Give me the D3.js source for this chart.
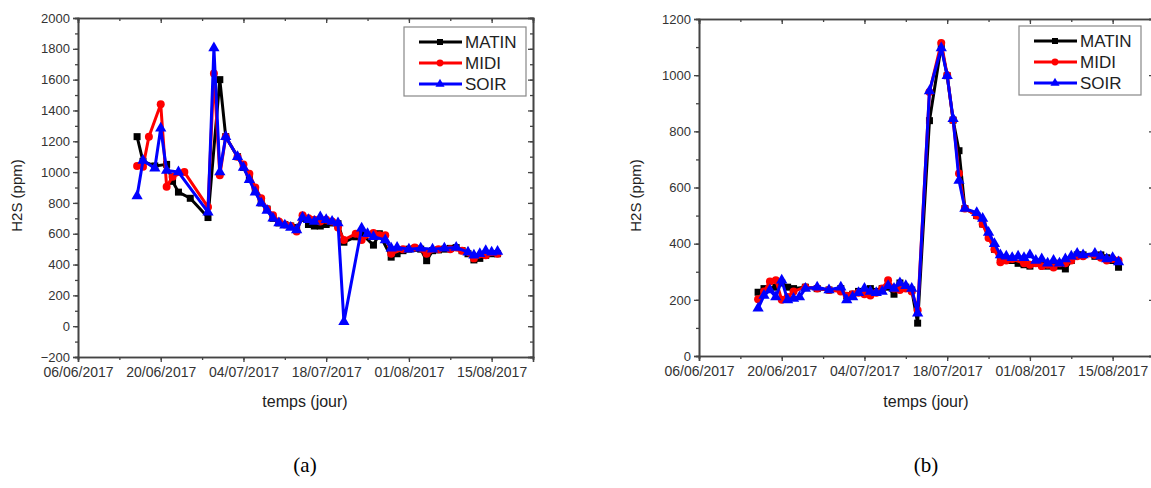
<!DOCTYPE html>
<html>
<head>
<meta charset="utf-8">
<script src="https://cdn.jsdelivr.net/npm/d3@7"></script>
<style>
  body { margin: 0; background: #fff; }
  svg { display: block; font-family: "Liberation Sans", Arial, sans-serif; }
  .tick text { fill: #333; }
  .domain, .tick line { stroke: #444; }
</style>
</head>
<body>
<div class="chart"></div>
<script>
// tick labels and series names
var xTickLabels = ["06/06/2017", "20/06/2017", "04/07/2017", "18/07/2017", "01/08/2017", "15/08/2017"];
var seriesNames = ["MATIN", "MIDI", "SOIR"];

// (a) left chart : dates (dd/mm) and H2S values
var aMatinDates = ["16/06","17/06","19/06","21/06","22/06","23/06","25/06","28/06","30/06","01/07","03/07","04/07","05/07","06/07","07/07","08/07","09/07","10/07","11/07","12/07","13/07","14/07","15/07","16/07","17/07","18/07","19/07","20/07","21/07","23/07","24/07","26/07","27/07","29/07","30/07","31/07","01/08","02/08","03/08","04/08","05/08","06/08","07/08","08/08","09/08","10/08","11/08","12/08","13/08","14/08","15/08","16/08"];
var aMatin = [1230,1070,1040,1050,940,870,830,705,1600,1230,1100,1030,960,880,800,760,700,670,660,650,640,700,660,650,650,660,670,665,545,580,600,526,600,448,470,490,500,505,500,425,490,495,500,505,510,490,470,430,440,460,470,470];

var aMidiDates = ["16/06","17/06","18/06","20/06","21/06","22/06","24/06","28/06","29/06","30/06","01/07","03/07","04/07","05/07","06/07","07/07","08/07","09/07","10/07","11/07","12/07","13/07","14/07","15/07","16/07","17/07","18/07","19/07","20/07","21/07","23/07","24/07","26/07","27/07","28/07","29/07","31/07","02/08","04/08","06/08","08/08","10/08","12/08","14/08","16/08"];
var aMidi = [1040,1035,1230,1440,905,970,1000,773,1640,980,1230,1100,1050,990,900,830,760,720,680,660,650,615,720,700,690,680,690,680,640,560,600,560,604,590,590,470,500,510,470,500,500,490,440,460,470];

var aSoirDates = ["16/06","17/06","19/06","20/06","21/06","23/06","28/06","29/06","30/06","01/07","03/07","04/07","05/07","06/07","07/07","08/07","09/07","10/07","11/07","12/07","13/07","14/07","15/07","16/07","17/07","18/07","19/07","20/07","21/07","24/07","25/07","26/07","28/07","29/07","30/07","01/08","03/08","05/08","07/08","09/08","11/08","12/08","13/08","14/08","15/08","16/08"];
var aSoir = [845,1075,1025,1285,1010,1000,740,1805,1000,1230,1100,1030,950,870,800,750,700,670,655,640,625,705,690,680,708,690,680,669,28,636,600,580,560,506,510,500,505,500,505,510,480,460,470,490,480,485];

// (b) right chart : dates (dd/mm) and H2S values
var bMatinDates = ["16/06","17/06","19/06","20/06","21/06","22/06","24/06","26/06","28/06","30/06","01/07","02/07","03/07","05/07","06/07","07/07","08/07","09/07","10/07","11/07","12/07","13/07","15/07","17/07","18/07","19/07","20/07","21/07","23/07","24/07","25/07","26/07","27/07","28/07","29/07","30/07","31/07","01/08","02/08","03/08","04/08","05/08","06/08","07/08","08/08","09/08","10/08","12/08","13/08","14/08","15/08","16/08"];
var bMatin = [227,240,245,260,245,240,245,240,235,240,215,220,230,240,230,240,245,220,260,245,235,117,838,1105,998,840,731,525,500,470,430,380,350,340,340,330,325,320,330,330,320,330,320,310,340,360,360,355,360,350,340,316];

var bMidiDates = ["16/06","17/06","18/06","19/06","20/06","21/06","22/06","24/06","26/06","28/06","30/06","01/07","02/07","03/07","04/07","05/07","06/07","07/07","08/07","09/07","10/07","11/07","12/07","13/07","15/07","17/07","18/07","19/07","20/07","21/07","23/07","24/07","25/07","26/07","27/07","28/07","29/07","31/07","01/08","02/08","03/08","04/08","05/08","06/08","07/08","08/08","09/08","10/08","12/08","13/08","14/08","15/08","16/08"];
var bMidi = [202,230,265,270,200,210,230,245,240,235,230,215,220,225,220,215,225,240,270,240,235,240,230,163,940,1115,1000,840,650,525,500,470,420,380,334,340,345,330,325,330,320,325,315,330,330,340,355,355,360,350,340,345,340];

var bSoirDates = ["16/06","17/06","18/06","19/06","20/06","21/06","22/06","23/06","24/06","26/06","28/06","30/06","01/07","02/07","03/07","04/07","05/07","06/07","07/07","08/07","09/07","10/07","11/07","12/07","13/07","15/07","17/07","18/07","19/07","20/07","21/07","23/07","24/07","25/07","26/07","27/07","28/07","29/07","30/07","31/07","01/08","02/08","03/08","04/08","05/08","06/08","07/08","08/08","09/08","10/08","12/08","13/08","14/08","15/08","16/08"];
var bSoir = [170,215,235,210,270,199,205,210,240,245,235,245,199,210,225,240,230,225,230,250,240,260,250,240,152,944,1097,998,845,625,525,510,490,440,400,360,355,350,355,350,360,340,345,330,340,330,345,355,365,360,365,355,345,350,335];

// declare dimensions
var svgWidth = 1151;
var svgHeight = 488;
var parseDate = d3.timeParse("%d/%m/%Y");
var colors = ["#000000", "#ff0000", "#0000ff"];

var svg = d3.select(".chart")
  .append("svg")
  .attr("width", svgWidth)
  .attr("height", svgHeight);

function zip(dates, values) {
  return dates.map((d, i) => ({ date: parseDate(d + "/2017"), value: values[i] }));
}

function drawPanel(opts) {
  var g = svg.append("g");
  var x = d3.scaleTime()
    .domain([parseDate("06/06/2017"), parseDate("22/08/2017")])
    .range([opts.left, opts.left + 455]);
  var y = d3.scaleLinear()
    .domain(opts.yDomain)
    .range([opts.bottom, opts.top]);

  var majorX = xTickLabels.map(parseDate);
  var minorX = d3.timeDay.range(parseDate("06/06/2017"), parseDate("23/08/2017"), 7);
  var majorY = d3.range(opts.yDomain[0], opts.yDomain[1] + 1, 200);
  var minorY = d3.range(opts.yDomain[0], opts.yDomain[1] + 1, 100);

  // minor ticks
  g.append("g").attr("transform", `translate(0,${opts.bottom})`)
    .call(d3.axisBottom(x).tickValues(minorX).tickSize(3).tickFormat(""));
  g.append("g").attr("transform", `translate(0,${opts.top})`)
    .call(d3.axisTop(x).tickValues(minorX).tickSize(-3).tickFormat(""));
  g.append("g").attr("transform", `translate(${opts.left},0)`)
    .call(d3.axisLeft(y).tickValues(minorY).tickSize(3).tickFormat(""));
  g.append("g").attr("transform", `translate(${opts.left + 455},0)`)
    .call(d3.axisRight(y).tickValues(minorY).tickSize(-3).tickFormat(""));

  // major ticks
  g.append("g").attr("transform", `translate(0,${opts.bottom})`)
    .call(d3.axisBottom(x).tickValues(majorX).tickSize(5).tickPadding(5).tickFormat(d3.timeFormat("%d/%m/%Y")))
    .selectAll("text").style("font-size", "14px");
  g.append("g").attr("transform", `translate(0,${opts.top})`)
    .call(d3.axisTop(x).tickValues(majorX).tickSize(-5).tickFormat(""));
  g.append("g").attr("transform", `translate(${opts.left},0)`)
    .call(d3.axisLeft(y).tickValues(majorY).tickSize(5).tickPadding(3).tickFormat(d3.format("d")))
    .selectAll("text").style("font-size", "13px");
  g.append("g").attr("transform", `translate(${opts.left + 455},0)`)
    .call(d3.axisRight(y).tickValues(majorY).tickSize(-5).tickFormat(""));

  g.selectAll(".domain").attr("stroke-width", 1.6);
  g.selectAll(".tick line").attr("stroke-width", 1.3);

  // axis titles
  g.append("text")
    .attr("x", opts.left + 227)
    .attr("y", 407)
    .attr("text-anchor", "middle")
    .style("font-size", "16px")
    .attr("fill", "#222")
    .text("temps (jour)");
  g.append("text")
    .attr("transform", `translate(${opts.yTitleX},${(opts.top + opts.bottom) / 2 + 8}) rotate(-90)`)
    .attr("text-anchor", "middle")
    .style("font-size", "15px")
    .attr("fill", "#222")
    .text("H2S (ppm)");

  var line = d3.line().x(d => x(d.date)).y(d => y(d.value));

  opts.series.forEach((s, i) => {
    var data = zip(s[0], s[1]);
    g.append("path")
      .datum(data)
      .attr("fill", "none")
      .attr("stroke", colors[i])
      .attr("stroke-width", 3)
      .attr("stroke-linejoin", "round")
      .attr("d", line);
    var marks = g.append("g").selectAll("path")
      .data(data)
      .enter()
      .append("path")
      .attr("transform", d => `translate(${x(d.date)},${y(d.value)})`)
      .attr("fill", colors[i]);
    if (i == 0) marks.attr("d", d3.symbol(d3.symbolSquare, 49));
    else if (i == 1) marks.attr("d", d3.symbol(d3.symbolCircle, 50));
    else marks.attr("d", d3.symbol(d3.symbolTriangle, 55));
  });

  // legend
  var lg = g.append("g");
  lg.append("rect")
    .attr("x", opts.legend[0])
    .attr("y", opts.legend[1])
    .attr("width", 122)
    .attr("height", 69)
    .attr("fill", "#fff")
    .attr("stroke", "#888")
    .attr("stroke-width", 1.2);
  seriesNames.forEach((name, i) => {
    var ly = opts.legend[1] + 15 + i * 21;
    var lx0 = opts.legend[0] + 15;
    lg.append("line")
      .attr("x1", lx0).attr("x2", lx0 + 43)
      .attr("y1", ly).attr("y2", ly)
      .attr("stroke", colors[i])
      .attr("stroke-width", 3);
    var sym = i == 0 ? d3.symbolSquare : (i == 1 ? d3.symbolCircle : d3.symbolTriangle);
    lg.append("path")
      .attr("transform", `translate(${lx0 + 21},${ly})`)
      .attr("d", d3.symbol(sym, 36))
      .attr("fill", colors[i]);
    lg.append("text")
      .attr("x", lx0 + 46)
      .attr("y", ly + 6)
      .style("font-size", "17px")
      .attr("fill", "#222")
      .text(name);
  });

  // caption
  svg.append("text")
    .attr("x", opts.left + 227)
    .attr("y", 472)
    .attr("text-anchor", "middle")
    .style("font-family", "'Liberation Serif', 'Times New Roman', serif")
    .style("font-size", "21px")
    .attr("fill", "#000")
    .text(opts.caption);
}

drawPanel({
  left: 78, top: 18, bottom: 357,
  yDomain: [-200, 2000], yTitleX: 22,
  legend: [404, 27],
  caption: "(a)",
  series: [[aMatinDates, aMatin], [aMidiDates, aMidi], [aSoirDates, aSoir]]
});

drawPanel({
  left: 699, top: 19, bottom: 356,
  yDomain: [0, 1200], yTitleX: 641,
  legend: [1019, 26],
  caption: "(b)",
  series: [[bMatinDates, bMatin], [bMidiDates, bMidi], [bSoirDates, bSoir]]
});
</script>
</body>
</html>
